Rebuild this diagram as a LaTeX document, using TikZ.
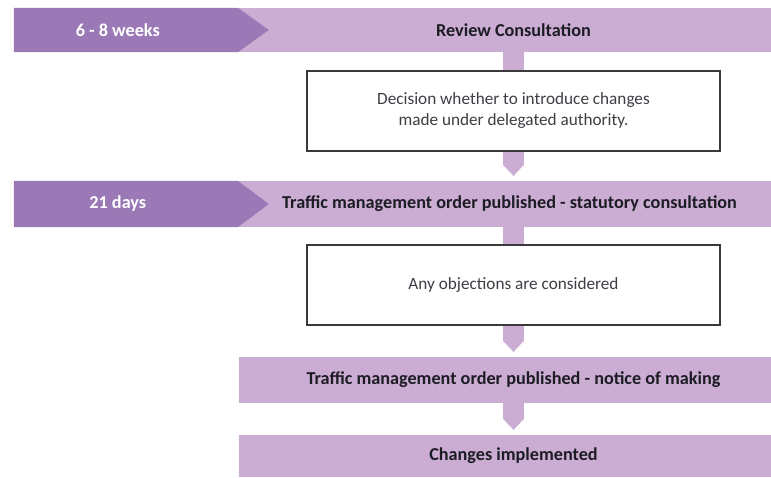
\documentclass[tikz,border=0pt]{standalone}
\usepackage{fontspec}
\setmainfont{Carlito}
\usetikzlibrary{positioning, arrows.meta, calc, backgrounds}

\definecolor{barlight}{HTML}{CBACD2}
\definecolor{bardark}{HTML}{9A79B6}
\definecolor{boxline}{HTML}{3A3A3A}
\definecolor{inktext}{HTML}{1C1C24}

\tikzset{
  bar/.style={fill=barlight, minimum height=46pt, inner sep=0pt},
  bartext/.style={font=\bfseries\fontsize{18.2}{20}\selectfont, text=inktext},
  timetext/.style={font=\bfseries\fontsize{18.2}{20}\selectfont, text=white},
  decision/.style={draw=boxline, line width=1.3pt, fill=white, minimum width=413pt,
    minimum height=80pt, align=center, font=\fontsize{17.2}{21}\selectfont, text=inktext!85},
  stem/.style={draw=barlight, line width=21pt},
  stemtip/.style={stem, shorten >=5pt, -{Triangle[length=11pt, width=21pt, line width=0pt]}}
}

\begin{document}
\begin{tikzpicture}[x=1pt, y=-1pt]
\useasboundingbox (0,0) rectangle (771,477);

% Bars
\node[bar, minimum width=757pt, minimum height=44pt] (review) at (392.5,30) {};
\node[bar, minimum width=757pt] (statutory) at (392.5,204) {};
\node[bar, minimum width=532pt] (making) at (505,380) {};
\node[bar, minimum width=532pt, minimum height=42pt] (implemented) at (505,456) {};

% Time periods
\fill[bardark] (review.north west) -- ++(224,0) -- ($(review.west)+(255,0)$)
  -- ($(review.south west)+(224,0)$) -- (review.south west) -- cycle;
\fill[bardark] (statutory.north west) -- ++(224,0) -- ($(statutory.west)+(255,0)$)
  -- ($(statutory.south west)+(224,0)$) -- (statutory.south west) -- cycle;
\node[timetext] (weeks) at ($(review.west)+(104,0)$) {6 - 8 weeks};
\node[timetext] (days) at ($(statutory.west)+(104,0)$) {21 days};

% Boxes
\node[decision] (decide) at (513.5,111) {Decision whether to introduce changes\\made under delegated authority.};
\node[decision] (objections) at (513.5,285) {Any objections are considered};

% Bar labels
\node[bartext] (reviewtxt) at (review -| decide) {Review Consultation};
\node[bartext] (statutorytxt) at ($(statutory -| decide)+(-4,0)$) {Traffic management order published - statutory consultation};
\node[bartext] (makingtxt) at (making -| decide) {Traffic management order published - notice of making};
\node[bartext] (implementedtxt) at (implemented -| decide) {Changes implemented};

% Connectors
\begin{scope}[on background layer]
\draw[stem] (review.south -| decide) -- (decide.north);
\draw[stemtip] (decide.south) -- (statutory.north -| decide);
\draw[stem] (statutory.south -| objections) -- (objections.north);
\draw[stemtip] (objections.south) -- (making.north -| objections);
\draw[stemtip] (making.south -| objections) -- (implemented.north -| objections);
\end{scope}

\end{tikzpicture}
\end{document}
